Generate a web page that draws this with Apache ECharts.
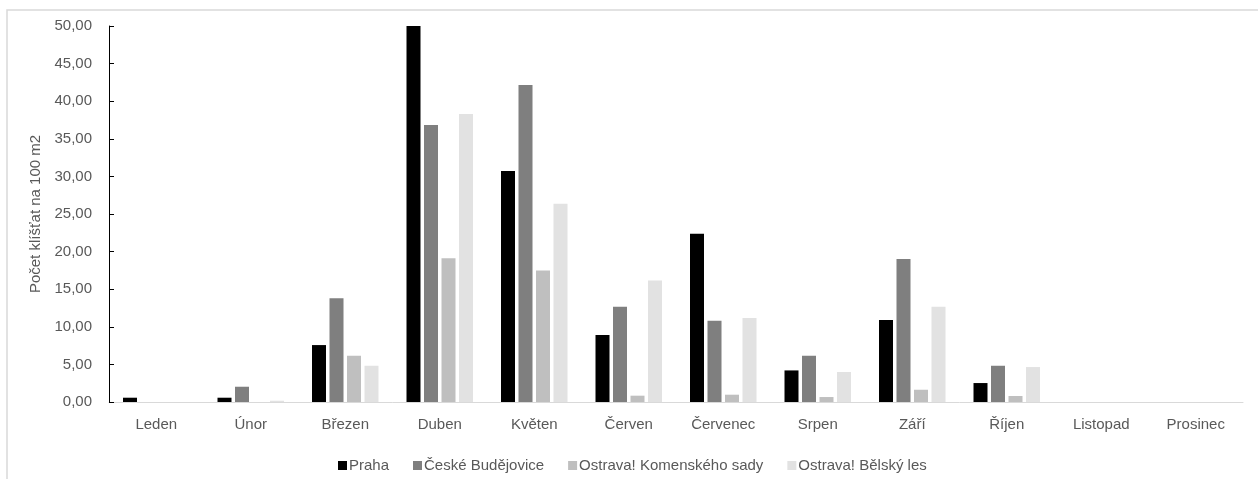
<!DOCTYPE html>
<html>
<head>
<meta charset="utf-8">
<script src="https://cdn.jsdelivr.net/npm/echarts@6/dist/echarts.min.js"></script>
<style>
  html, body { margin: 0; padding: 0; background: #fff; }
  #chart { width: 1258px; height: 479px; }
</style>
</head>
<body>
<div id="chart"></div>
<script>
// Months of the year
const months = ['Leden', 'Únor', 'Březen', 'Duben', 'Květen', 'Červen', 'Červenec', 'Srpen', 'Září', 'Říjen', 'Listopad', 'Prosinec'];

// Tick counts per 100 m2 for each site
const praha        = [0.57, 0.57, 7.57, 50.0, 30.73, 8.90, 22.36, 4.20, 10.90, 2.52, 0, 0];
const budejovice   = [0, 2.03, 13.80, 36.85, 42.16, 12.66, 10.80, 6.15, 19.00, 4.82, 0, 0];
const komenskeho   = [0, 0, 6.15, 19.13, 17.49, 0.84, 0.97, 0.66, 1.63, 0.80, 0, 0];
const belskyLes    = [0, 0.17, 4.82, 38.30, 26.35, 16.16, 11.16, 3.99, 12.66, 4.65, 0, 0];

const seriesNames = ['Praha', 'České Budějovice', 'Ostrava! Komenského sady', 'Ostrava! Bělský les'];
const seriesColors = ['#000000', '#7f7f7f', '#bfbfbf', '#e2e2e2'];
const seriesData = [praha, budejovice, komenskeho, belskyLes];

const fontFamily = '"Liberation Sans", Arial, sans-serif';
const textColor = '#595959';

const chart = echarts.init(document.getElementById('chart'), null, { renderer: 'canvas' });

chart.setOption({
  backgroundColor: '#ffffff',
  animation: false,
  graphic: [{
    type: 'rect',
    left: 4.5,
    top: 7.5,
    shape: { width: 1300, height: 500 },
    style: { fill: 'none', stroke: '#d9d9d9', lineWidth: 1.5 },
    silent: true,
    z: -1
  }],
  grid: { left: 109, right: 15, top: 26, bottom: 77, containLabel: false },
  legend: {
    data: seriesNames,
    left: 333,
    top: 453,
    itemWidth: 9,
    itemHeight: 9,
    itemGap: 24,
    icon: 'rect',
    textStyle: { color: textColor, fontSize: 15, fontFamily: fontFamily, padding: [0, 0, 0, -3] }
  },
  xAxis: {
    type: 'category',
    data: months,
    axisLine: { lineStyle: { color: '#d9d9d9', width: 1 } },
    axisTick: { show: false },
    axisLabel: { color: textColor, fontSize: 15, fontFamily: fontFamily, margin: 15, interval: 0 },
    splitLine: { show: false }
  },
  yAxis: {
    type: 'value',
    min: 0,
    max: 50,
    interval: 5,
    name: 'Počet klíšťat na 100 m2',
    nameLocation: 'middle',
    nameGap: 60,
    nameTextStyle: { color: textColor, fontSize: 15, fontFamily: fontFamily },
    axisLine: { show: true, lineStyle: { color: '#000000', width: 1 } },
    axisTick: { show: true, inside: true, length: 5, lineStyle: { color: '#000000' } },
    axisLabel: {
      color: textColor, fontSize: 15, fontFamily: fontFamily, margin: 17,
      formatter: v => v.toFixed(2).replace('.', ',')
    },
    splitLine: { show: false }
  },
  series: seriesNames.map((name, i) => ({
    name: name,
    type: 'bar',
    data: seriesData[i],
    barWidth: 14,
    barGap: '25%',
    itemStyle: { color: seriesColors[i] }
  }))
});
</script>
</body>
</html>
